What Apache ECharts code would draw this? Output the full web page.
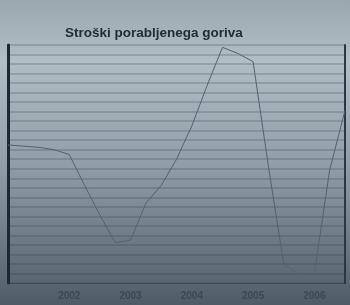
<!DOCTYPE html>
<html>
<head>
<meta charset="utf-8">
<script src="https://cdn.jsdelivr.net/npm/echarts@6/dist/echarts.min.js"></script>
<style>
  html, body { margin: 0; padding: 0; }
  #main { width: 350px; height: 305px; }
</style>
</head>
<body>
<div id="main"></div>
<script>
//数据
var titleText = 'Stroški porabljenega goriva';
var categories = ['2001','Q2','Q3','Q4','2002','Q2','Q3','Q4','2003','Q2','Q3','Q4',
                  '2004','Q2','Q3','Q4','2005','Q2','Q3','Q4','2006','Q2','Q3'];
var costs = [58, 57.5, 57, 56, 54, 41, 28.5, 17, 18, 33.5, 41, 52,
             66, 83, 99, 96.5, 93, 49, 8, 3.5, 4, 47.5, 72.5];

(function(){
  var myChart = echarts.init(document.getElementById('main'));
  var option = {
    backgroundColor: new echarts.graphic.LinearGradient(0, 0, 0, 1, [
      { offset: 0, color: '#9ba7af' },
      { offset: 0.2, color: '#b2bdc4' },
      { offset: 0.55, color: '#8f9da6' },
      { offset: 1, color: '#4d5c66' }
    ]),
    title: {
      text: titleText,
      left: 60,
      top: 21,
      textStyle: {
        fontFamily: 'Liberation Sans',
        fontSize: 13.5,
        fontWeight: 'bold',
        color: '#222d34'
      }
    },
    grid: {
      left: 8,
      right: 5,
      top: 45,
      bottom: 22
    },
    xAxis: {
      type: 'category',
      boundaryGap: false,
      data: categories,
      axisLine: { lineStyle: { color: 'rgba(40,55,66,0.5)', width: 1 } },
      axisTick: { show: false },
      axisLabel: {
        //只显示年份
        interval: function(index){ return index > 0 && index % 4 === 0; },
        color: '#3a4952',
        fontFamily: 'Liberation Sans',
        fontSize: 10,
        fontWeight: 'bold',
        margin: 8
      }
    },
    yAxis: [
      {
        type: 'value',
        min: 0,
        max: 100,
        interval: 4,
        axisLabel: { show: false },
        axisTick: { show: false },
        axisLine: { show: true, lineStyle: { color: '#1c2932', width: 3 } },
        splitLine: { lineStyle: { color: 'rgba(40,55,66,0.2)', width: 2 } }
      },
      {
        type: 'value',
        position: 'right',
        min: 0,
        max: 100,
        axisLabel: { show: false },
        axisTick: { show: false },
        axisLine: { show: true, lineStyle: { color: '#2a3841', width: 2 } },
        splitLine: { show: false }
      }
    ],
    series: [
      {
        name: titleText,
        type: 'line',
        data: costs,
        symbol: 'none',
        lineStyle: { color: '#55626c', width: 1 }
      }
    ]
  };
  myChart.setOption(option);
  window.addEventListener('resize', function(){
    myChart.resize();
  });
})();
</script>
</body>
</html>
